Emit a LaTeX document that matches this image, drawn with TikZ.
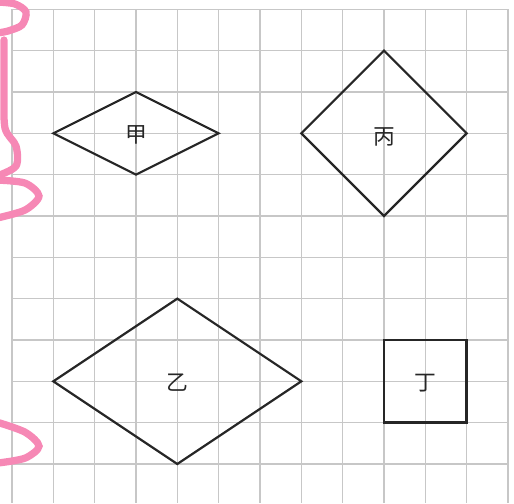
\documentclass[tikz,border=0pt]{standalone}
\usepackage{fontspec}
\newfontfamily\cjk{Noto Sans CJK SC}
\usetikzlibrary{positioning}
\tikzstyle{gridline} = [draw=black!22, line width=0.9pt]
\tikzstyle{figline} = [draw=black!85, line width=1.5pt, line join=miter]
\tikzstyle{tag} = [font=\cjk\fontsize{15}{15}\selectfont, text=black!85, inner sep=0pt]
\tikzstyle{scribble} = [draw=magenta!45!pink!80, line width=5pt, line cap=round]

\begin{document}
\begin{tikzpicture}
        \useasboundingbox (-0.29,0.225) rectangle (12.145,-11.945);
        %Grid
        \foreach \i in {0,...,11} \draw[gridline] (0,-\i) -- (12,-\i);
        \foreach \j in {0,...,12} \draw[gridline] (\j,0) -- (\j,-11.95);
        %Pink marks
        \begin{scope}[shift={(-0.2903,0.225)}, x=0.024195cm, y=-0.024195cm]
            \draw[scribble] plot[smooth] coordinates {(-3,2) (15,4) (26,12) (22,25) (8,31) (-3,33)};
            \draw[scribble] plot[smooth] coordinates {(4,40) (4,90) (5,128) (16,146) (16,166) (-3,176)};
            \draw[scribble] plot[smooth] coordinates {(-3,180) (25,183) (39,196) (25,210) (-3,218)};
            \draw[scribble] plot[smooth] coordinates {(-3,422) (25,432) (39,446) (25,458) (-3,463)};
        \end{scope}
        %Shapes
        \draw[figline] (1,-3) -- (3,-2) -- (5,-3) -- (3,-4) -- cycle;
        \draw[figline] (7,-3) -- (9,-1) -- (11,-3) -- (9,-5) -- cycle;
        \draw[figline] (1,-9) -- (4,-7) -- (7,-9) -- (4,-11) -- cycle;
        \draw[figline, line width=1.9pt] (9,-8) rectangle (11,-10);
        %Labels
        \node[tag] (jia) at (3,-3.04) {甲};
        \node[tag] (bing) at (9,-3.08) {丙};
        \node[tag] (yi) at (4,-9.02) {乙};
        \node[tag] (ding) at (10,-9.04) {丁};
\end{tikzpicture}
\end{document}
